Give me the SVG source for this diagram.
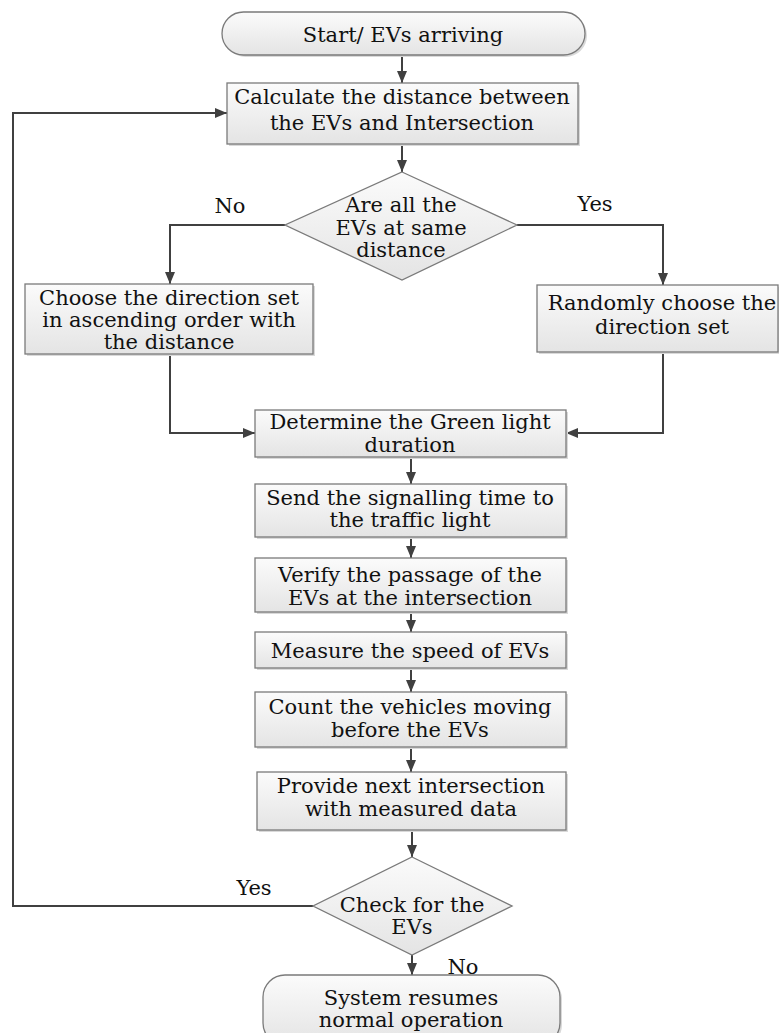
<svg xmlns="http://www.w3.org/2000/svg" width="779" height="1033" viewBox="0 0 779 1033">
<defs>
<linearGradient id="g" x1="0" y1="0" x2="0" y2="1">
<stop offset="0" stop-color="#fbfbfb"/>
<stop offset="1" stop-color="#e4e4e4"/>
</linearGradient>
<marker id="ah" viewBox="0 0 12 10" refX="12" refY="5" markerWidth="12" markerHeight="10" markerUnits="userSpaceOnUse" orient="auto">
<path d="M0,0 L12,5 L0,10 Z" fill="#404040"/>
</marker>
</defs>
<style>
.box{fill:url(#g);stroke:#7a7a7a;stroke-width:1.3}
.sh{fill:#d9d9d9;stroke:none}
.t{font-family:"DejaVu Serif",serif;font-size:21px;fill:#111;text-anchor:middle}
.c{fill:none;stroke:#404040;stroke-width:2}
.ca{fill:none;stroke:#404040;stroke-width:2;marker-end:url(#ah)}
</style>
<rect width="779" height="1033" fill="#fff"/>

<g id="connectors">
<path class="ca" d="M402,55 L402,83"/>
<path class="ca" d="M402,144 L402,172"/>
<path class="ca" d="M285,225 L170,225 L170,284"/>
<path class="ca" d="M517,225 L663,225 L663,285"/>
<path class="ca" d="M170,354 L170,433 L255,433"/>
<path class="ca" d="M663,352 L663,433 L566,433"/>
<path class="ca" d="M411,457 L411,484"/>
<path class="ca" d="M411,537 L411,558"/>
<path class="ca" d="M411,612 L411,632"/>
<path class="ca" d="M411,668 L411,692"/>
<path class="ca" d="M411,747 L411,772"/>
<path class="ca" d="M412,830 L412,857"/>
<path class="ca" d="M313,906 L13,906 L13,113 L227,113"/>
<path class="ca" d="M412,955 L412,975"/>
<text class="t" x="230" y="213">No</text>
<text class="t" x="595" y="211">Yes</text>
<text class="t" x="254" y="895">Yes</text>
<text class="t" x="463" y="974">No</text>
</g>

<g id="start">
<rect class="sh" x="224" y="14" width="363" height="43" rx="21.5"/>
<rect class="box" x="222" y="12" width="363" height="43" rx="21.5"/>
<text class="t" x="403" y="42">Start/ EVs arriving</text>
</g>

<g id="calc">
<rect class="sh" x="229" y="85" width="351" height="61"/>
<rect class="box" x="227" y="83" width="351" height="61"/>
<text class="t" x="402" y="104">Calculate the distance between</text>
<text class="t" x="402" y="130">the EVs and Intersection</text>
</g>

<g id="decision1">
<path class="box" d="M402,172 L517,225 L402,280 L285,225 Z"/>
<text class="t" x="401" y="212">Are all the</text>
<text class="t" x="401" y="235">EVs at same</text>
<text class="t" x="401" y="257">distance</text>
</g>

<g id="choose">
<rect class="sh" x="27" y="286" width="288" height="70"/>
<rect class="box" x="25" y="284" width="288" height="70"/>
<text class="t" x="169" y="305">Choose the direction set</text>
<text class="t" x="169" y="327">in ascending order with</text>
<text class="t" x="169" y="349">the distance</text>
</g>

<g id="random">
<rect class="sh" x="539" y="287" width="241" height="67"/>
<rect class="box" x="537" y="285" width="241" height="67"/>
<text class="t" x="662" y="310">Randomly choose the</text>
<text class="t" x="662" y="334">direction set</text>
</g>

<g id="determine">
<rect class="sh" x="257" y="412" width="311" height="47"/>
<rect class="box" x="255" y="410" width="311" height="47"/>
<text class="t" x="410" y="429">Determine the Green light</text>
<text class="t" x="410" y="452">duration</text>
</g>

<g id="send">
<rect class="sh" x="257" y="486" width="311" height="53"/>
<rect class="box" x="255" y="484" width="311" height="53"/>
<text class="t" x="410" y="505">Send the signalling time to</text>
<text class="t" x="410" y="527">the traffic light</text>
</g>

<g id="verify">
<rect class="sh" x="257" y="560" width="311" height="54"/>
<rect class="box" x="255" y="558" width="311" height="54"/>
<text class="t" x="410" y="582">Verify the passage of the</text>
<text class="t" x="410" y="605">EVs at the intersection</text>
</g>

<g id="measure">
<rect class="sh" x="257" y="634" width="311" height="36"/>
<rect class="box" x="255" y="632" width="311" height="36"/>
<text class="t" x="410" y="658">Measure the speed of EVs</text>
</g>

<g id="count">
<rect class="sh" x="257" y="694" width="311" height="55"/>
<rect class="box" x="255" y="692" width="311" height="55"/>
<text class="t" x="410" y="714">Count the vehicles moving</text>
<text class="t" x="410" y="737">before the EVs</text>
</g>

<g id="provide">
<rect class="sh" x="259" y="774" width="309" height="58"/>
<rect class="box" x="257" y="772" width="309" height="58"/>
<text class="t" x="411" y="793">Provide next intersection</text>
<text class="t" x="411" y="816">with measured data</text>
</g>

<g id="decision2">
<path class="box" d="M412,857 L512,906 L412,955 L313,906 Z"/>
<text class="t" x="412" y="912">Check for the</text>
<text class="t" x="412" y="934">EVs</text>
</g>

<g id="end">
<rect class="sh" x="265" y="977" width="297" height="70" rx="22"/>
<rect class="box" x="263" y="975" width="297" height="70" rx="22"/>
<text class="t" x="411" y="1005">System resumes</text>
<text class="t" x="411" y="1027">normal operation</text>
</g>
</svg>
